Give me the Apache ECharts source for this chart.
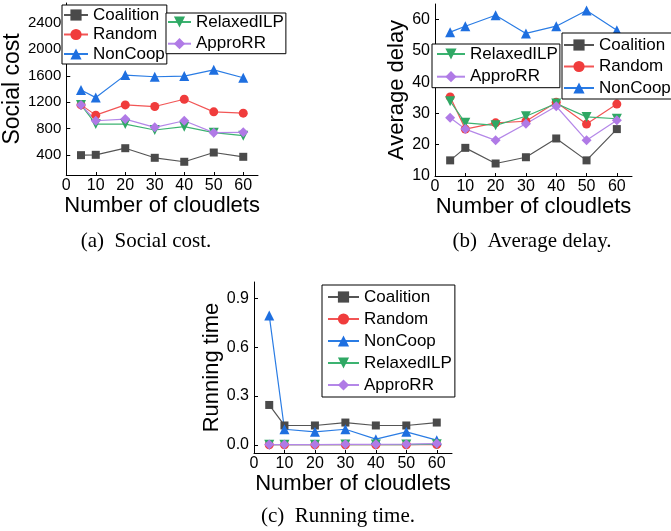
<!DOCTYPE html>
<html>
<head>
<meta charset="utf-8">
<script src="https://cdn.jsdelivr.net/npm/echarts@6/dist/echarts.min.js"></script>
<style>
  html, body { margin: 0; padding: 0; background: #fff; }
  #main { width: 671px; height: 531px; }
</style>
</head>
<body>
<div id="main"></div>
<script>
// x values shared by the three panels
const cloudlets = [5, 10, 20, 30, 40, 50, 60];

// (a) social cost
const costCoalition = [400, 405, 505, 360, 300, 440, 375];
const costRandom = [1160, 1005, 1160, 1135, 1245, 1055, 1035];
const costNonCoop = [1385, 1270, 1610, 1585, 1595, 1690, 1570];
const costRelaxedILP = [1160, 870, 870, 780, 830, 740, 695];
const costApproRR = [1160, 920, 945, 820, 920, 740, 745];

// (b) average delay
const delayCoalition = [15, 19, 14, 16, 22, 15, 25];
const delayRandom = [35.3, 25, 27, 27.5, 33.6, 26.6, 33];
const delayNonCoop = [56, 57.9, 61.4, 55.6, 57.9, 62.9, 56.6];
const delayRelaxedILP = [33.9, 27, 26.2, 29.1, 33.2, 28.9, 28.3];
const delayApproRR = [28.6, 25, 21.4, 26.7, 32.3, 21.4, 27.8];

// (c) running time
const timeCoalition = [0.245, 0.119, 0.119, 0.137, 0.119, 0.119, 0.137];
const timeRandom = [0.001, 0.001, 0.001, 0.001, 0.001, 0.001, 0.002];
const timeNonCoop = [0.795, 0.096, 0.08, 0.096, 0.035, 0.08, 0.029];
const timeRelaxedILP = [0.001, 0.001, 0.001, 0.002, 0.002, 0.002, 0.004];
const timeApproRR = [0.002, 0.002, 0.002, 0.003, 0.003, 0.004, 0.008];

const xTicks = [0, 10, 20, 30, 40, 50, 60];
const costTicks = [400, 800, 1200, 1600, 2000, 2400];
const delayTicks = [10, 20, 30, 40, 50, 60];
const timeTicks = [0, 0.3, 0.6, 0.9];

const styles = {
  Coalition: { symbol: 'rect', size: 8, rotate: 0, color: '#4a4a4a', line: '#555555' },
  Random: { symbol: 'circle', size: 9, rotate: 0, color: '#f03c3c', line: '#f25555' },
  NonCoop: { symbol: 'triangle', size: 10, rotate: 0, color: '#1e6fe0', line: '#2a7ce4' },
  RelaxedILP: { symbol: 'triangle', size: 10, rotate: 180, color: '#2fa864', line: '#3cb371' },
  ApproRR: { symbol: 'diamond', size: 10, rotate: 0, color: '#b07ae6', line: '#b487e8' }
};

const FONT = "'Liberation Sans', Arial, sans-serif";

function mk(name, values, idx) {
  const s = styles[name];
  return {
    name: name,
    type: 'line',
    xAxisIndex: idx,
    yAxisIndex: idx,
    data: cloudlets.map((c, i) => [c, values[i]]),
    symbol: s.symbol,
    symbolSize: s.size,
    symbolRotate: s.rotate,
    itemStyle: { color: s.color },
    lineStyle: { color: s.line, width: 1.2 },
    animation: false
  };
}

function xAxis(idx, gap) {
  return {
    type: 'value', gridIndex: idx, min: 0, max: 65,
    name: 'Number of cloudlets', nameLocation: 'middle', nameGap: gap,
    nameTextStyle: { fontFamily: FONT, fontSize: 22, color: '#000' },
    axisLine: { onZero: false, lineStyle: { color: '#000', width: 1 } },
    axisTick: { inside: true, length: 3, customValues: xTicks, lineStyle: { color: '#000' } },
    axisLabel: { customValues: xTicks, fontFamily: FONT, fontSize: 16, color: '#000', margin: 3 },
    splitLine: { show: false }
  };
}

function yAxis(idx, name, min, max, ticks, gap, nameSize, labelSize, fmt) {
  return {
    type: 'value', gridIndex: idx, min: min, max: max,
    name: name, nameLocation: 'middle', nameGap: gap,
    nameTextStyle: { fontFamily: FONT, fontSize: nameSize, color: '#000' },
    axisLine: { show: true, lineStyle: { color: '#000', width: 1 } },
    axisTick: { show: true, inside: true, length: 4, customValues: ticks, lineStyle: { color: '#000' } },
    axisLabel: { customValues: ticks, fontFamily: FONT, fontSize: labelSize, color: '#000', margin: 5, formatter: fmt },
    splitLine: { show: false }
  };
}

function legend(names, left, top, padding, gap, itemWidth) {
  return {
    data: names, left: left, top: top, orient: 'vertical',
    padding: padding, itemGap: gap, itemWidth: itemWidth, itemHeight: 14,
    borderColor: '#000', borderWidth: 1, backgroundColor: '#fff',
    selectedMode: false,
    textStyle: { fontFamily: FONT, fontSize: 17, color: '#000', lineHeight: 18 }
  };
}

function caption(text, x, y) {
  return {
    type: 'text', x: x, y: y,
    style: { text: text, font: "21px 'Liberation Serif', 'Times New Roman', serif", fill: '#000', align: 'center', verticalAlign: 'middle' }
  };
}

const chart = echarts.init(document.getElementById('main'));
chart.setOption({
  animation: false,
  grid: [
    { left: 60, top: 3, width: 198, height: 172 },
    { left: 435, top: 4, width: 197, height: 172 },
    { left: 254, top: 282, width: 198, height: 171 }
  ],
  xAxis: [xAxis(0, 14), xAxis(1, 16), xAxis(2, 17)],
  yAxis: [
    yAxis(0, 'Social cost', 100, 2700, costTicks, 30, 23, 15, v => v),
    yAxis(1, 'Average delay', 10, 65, delayTicks, 22, 22, 16, v => v),
    yAxis(2, 'Running time', -0.05, 1.0, timeTicks, 30, 22, 16, v => v.toFixed(1))
  ],
  legend: [
    legend(['Coalition', 'Random', 'NonCoop'], 62, 5, [1, 2, 1, 1], 1.5, 24),
    legend(['RelaxedILP', 'ApproRR'], 166, 13, [0, 2, 1, 1], 3.7, 23),
    legend(['RelaxedILP', 'ApproRR'], 432, 44, [1, 2, 2, 4], 4.7, 28),
    legend(['Coalition', 'Random', 'NonCoop'], 562, 33, [3, 2, 2, 1], 3.5, 30),
    legend(['Coalition', 'Random', 'NonCoop', 'RelaxedILP', 'ApproRR'], 322, 285, [3, 3, 3, 5], 4, 31)
  ],
  graphic: [
    caption('(a)  Social cost.', 146, 241),
    caption('(b)  Average delay.', 532, 241),
    caption('(c)  Running time.', 338, 516)
  ],
  series: [
    mk('Coalition', costCoalition, 0),
    mk('Random', costRandom, 0),
    mk('NonCoop', costNonCoop, 0),
    mk('RelaxedILP', costRelaxedILP, 0),
    mk('ApproRR', costApproRR, 0),
    mk('Coalition', delayCoalition, 1),
    mk('Random', delayRandom, 1),
    mk('NonCoop', delayNonCoop, 1),
    mk('RelaxedILP', delayRelaxedILP, 1),
    mk('ApproRR', delayApproRR, 1),
    mk('Coalition', timeCoalition, 2),
    mk('Random', timeRandom, 2),
    mk('NonCoop', timeNonCoop, 2),
    mk('RelaxedILP', timeRelaxedILP, 2),
    mk('ApproRR', timeApproRR, 2)
  ]
});
</script>
</body>
</html>
